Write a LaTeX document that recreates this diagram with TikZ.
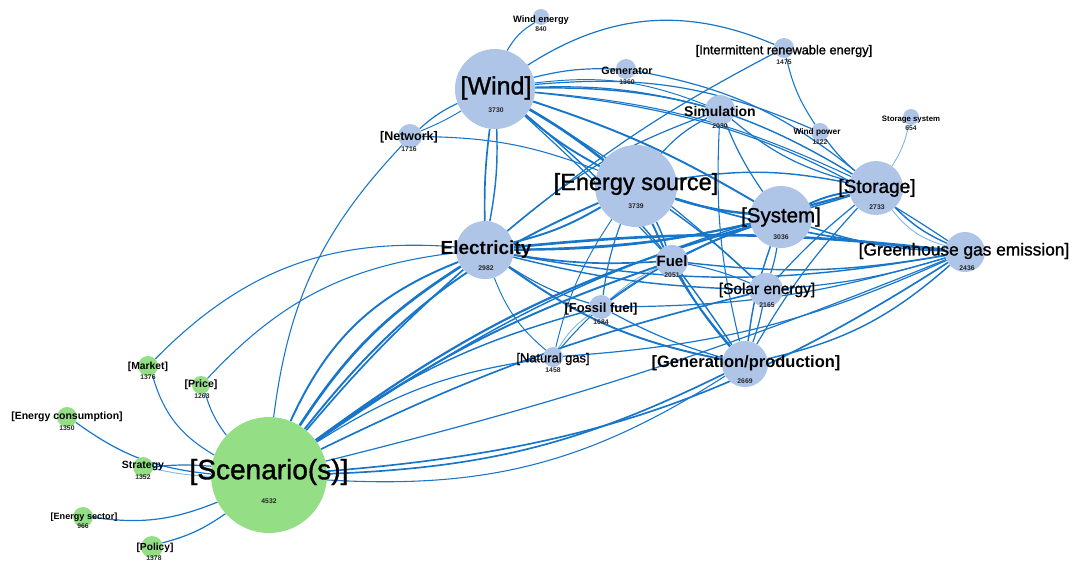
\documentclass[tikz,border=0pt]{standalone}
\usepackage{fontspec}
\setmainfont{Liberation Sans}
\newfontfamily\heavysans[FakeBold=1.2]{Liberation Sans}
\usetikzlibrary{positioning}
\definecolor{edgeblue}{RGB}{24,118,202}
\definecolor{topicblue}{RGB}{174,197,232}
\definecolor{topicgreen}{RGB}{148,222,134}
\pgfdeclarelayer{bg}
\pgfsetlayers{bg,main}

\begin{document}
\begin{tikzpicture}[x=1pt,y=-1pt,
bv/.style={circle,fill=topicblue,inner sep=0pt},
gv/.style={circle,fill=topicgreen,inner sep=0pt},
lb/.style={inner sep=0pt,text=black},
nb/.style={inner sep=0pt,text=black!85,font=\fontsize{6.8}{7}\selectfont\bfseries},
ed/.style={draw=edgeblue}]
\useasboundingbox (0,0) rectangle (1072,563);

% topics: name/x/y/radius/style
\foreach \n/\x/\y/\r/\s in {scen/269/475/58/gv, market/148/366/10/gv,
  price/201/385/9/gv, econs/67/417/10/gv, strat/143/467/10/gv,
  esec/83/517/10/gv, pol/152/547/11/gv,
  wind/495/89/40/bv, wenergy/541/17/8/bv, gener/626/69/10/bv,
  irene/784/48/10/bv, simul/720/110/15/bv, wpower/820/132/9/bv,
  sstor/911/117/8/bv, netw/410/136/12/bv, esrc/636/186/41/bv,
  syst/781/217/31/bv, stor/876/188/27/bv, ghg/965/252/20/bv,
  elec/485/250/29/bv, fuel/672/261/16/bv, solar/766/290/17/bv,
  fossil/601/307/12/bv, natgas/553/357/10/bv, gen/745/364/23/bv}
  \node[\s,minimum size=2*\r] (\n) at (\x,\y) {};

\begin{pgfonlayer}{bg}
% co-occurrence links: from/to/width/bend
\foreach \a/\b/\w/\k in {scen/elec/2.2/12, scen/elec/1.6/22, scen/elec/1.4/4,
  scen/esrc/1.6/14, scen/syst/1.8/10, scen/stor/1.2/10, scen/fuel/1.6/8,
  scen/fossil/1.2/10, scen/natgas/1.0/12, scen/solar/1.4/6,
  scen/gen/1.4/-12, scen/gen/0.9/-18, scen/ghg/1.4/-14, scen/ghg/1.0/-4,
  scen/netw/0.9/18, scen/market/0.9/22, scen/price/0.9/10, scen/strat/1.0/-5,
  econs/scen/1.0/-15, esec/scen/1.0/-15, pol/scen/1.0/-10,
  market/elec/0.9/25, price/elec/0.9/20,
  wind/wenergy/0.9/15, wind/netw/1.0/-8, wind/netw/0.8/4, wind/gener/1.0/8,
  wind/simul/1.0/8, wind/simul/0.8/14, wind/irene/1.0/28, wind/wpower/1.0/14,
  wind/stor/1.2/16, wind/stor/0.9/10, wind/syst/1.6/6, wind/esrc/2.2/4,
  wind/esrc/1.6/-6, wind/elec/1.4/-4, wind/elec/1.2/6, wind/gen/1.2/8,
  wind/ghg/1.0/14, wind/solar/1.0/6, wind/fuel/1.0/2,
  esrc/elec/1.6/8, esrc/syst/2.0/-6, esrc/stor/1.2/10, esrc/fuel/1.2/4,
  esrc/fossil/1.0/-6, esrc/gen/1.6/-8, esrc/ghg/1.4/-6, esrc/solar/1.2/4,
  esrc/simul/1.0/10, esrc/natgas/0.8/-10, netw/esrc/0.9/10,
  irene/elec/1.0/-6, irene/wpower/0.9/-10, simul/stor/1.0/-12,
  simul/syst/1.0/-6, simul/gen/0.9/-8, simul/elec/1.0/-10,
  gener/stor/1.0/14, wpower/stor/1.0/-6,
  syst/stor/1.6/8, elec/ghg/2.2/6, syst/ghg/1.2/-8, syst/solar/1.0/4,
  syst/gen/1.2/-6, syst/fuel/1.6/-4, syst/elec/1.8/6, syst/fossil/1.0/-8,
  stor/ghg/1.2/-10, stor/solar/1.0/-4, stor/gen/1.0/-6, stor/elec/1.2/8,
  stor/fuel/1.0/-6, ghg/solar/1.0/6, ghg/gen/1.2/14, ghg/fuel/1.2/8,
  ghg/fossil/1.0/8, ghg/natgas/1.0/10, ghg/elec/1.2/10,
  elec/fuel/1.4/-6, elec/fossil/1.0/-8, elec/gen/1.6/-12, elec/natgas/0.8/-14,
  elec/solar/1.2/-6, fuel/gen/1.2/-6, fuel/solar/0.9/6, fuel/natgas/0.9/-10,
  fossil/gen/1.0/-6, solar/gen/1.0/4}
  \draw[ed,line width=1.2*\w] (\a) to[bend left=\k] (\b);
% faint links
\foreach \a/\b/\k in {scen/strat/5, sstor/stor/10, stor/ghg/-18,
  fuel/fossil/-8, fossil/natgas/-12}
  \draw[ed,opacity=.55,line width=0.9] (\a) to[bend left=\k] (\b);
\end{pgfonlayer}

% labels
\node[lb,font=\fontsize{28}{28}\heavysans] (scen-t) at (269,472) {[Scenario(s)]};
\node[nb] (scen-n) at (269,501) {4532};
\node[lb,font=\fontsize{25}{25}\heavysans] (wind-t) at (496,88) {[Wind]};
\node[nb] (wind-n) at (496,110) {3730};
\node[lb,font=\fontsize{23.5}{24}\heavysans] (esrc-t) at (636,184) {[Energy source]};
\node[nb] (esrc-n) at (636,206) {3739};
\node[lb,font=\fontsize{20.5}{21}\heavysans] (syst-t) at (781,217) {[System]};
\node[nb] (syst-n) at (781,237) {3036};
\node[lb,font=\fontsize{19}{19}\heavysans] (stor-t) at (877,188) {[Storage]};
\node[nb] (stor-n) at (877,207) {2733};
\node[lb,font=\fontsize{17.3}{18}\heavysans] (ghg-t) at (964,251) {[Greenhouse gas emission]};
\node[nb] (ghg-n) at (967,268) {2436};
\node[lb,font=\fontsize{16.5}{17}\selectfont\bfseries] (gen-t) at (746,363) {[Generation/production]};
\node[nb] (gen-n) at (745,381) {2669};
\node[lb,font=\fontsize{19}{19}\selectfont\bfseries] (elec-t) at (486,250) {Electricity};
\node[nb] (elec-n) at (486,268) {2982};
\node[lb,font=\fontsize{15}{15}\selectfont\bfseries] (fuel-t) at (672,261) {Fuel};
\node[nb] (fuel-n) at (672,275) {2051};
\node[lb,font=\fontsize{15.5}{16}\heavysans] (solar-t) at (767,290) {[Solar energy]};
\node[nb] (solar-n) at (767,305) {2165};
\node[lb,font=\fontsize{13}{13}\selectfont\bfseries] (fossil-t) at (601,309) {[Fossil fuel]};
\node[nb] (fossil-n) at (601,322) {1684};
\node[lb,font=\fontsize{12.9}{13}\heavysans] (natgas-t) at (553,359) {[Natural gas]};
\node[nb] (natgas-n) at (553,370) {1458};
\node[lb,font=\fontsize{14}{14}\selectfont\bfseries] (simul-t) at (720,111) {Simulation};
\node[nb] (simul-n) at (720,126) {2030};
\node[lb,font=\fontsize{12.5}{13}\selectfont\bfseries] (netw-t) at (409,137) {[Network]};
\node[nb] (netw-n) at (409,149) {1716};
\node[lb,font=\fontsize{10.7}{11}\selectfont\bfseries] (gener-t) at (627,71) {Generator};
\node[nb] (gener-n) at (627,82) {1360};
\node[lb,font=\fontsize{12.8}{13}\heavysans] (irene-t) at (784,51) {[Intermittent renewable energy]};
\node[nb] (irene-n) at (784,62) {1475};
\node[lb,font=\fontsize{8.3}{9}\selectfont\bfseries] (wpower-t) at (817,132) {Wind power};
\node[nb] (wpower-n) at (820,142) {1122};
\node[lb,font=\fontsize{7.8}{8}\selectfont\bfseries] (sstor-t) at (911,120) {Storage system};
\node[nb] (sstor-n) at (911,128) {654};
\node[lb,font=\fontsize{9.3}{10}\selectfont\bfseries] (wenergy-t) at (541,20) {Wind energy};
\node[nb] (wenergy-n) at (541,29) {840};
\node[lb,font=\fontsize{10.3}{11}\selectfont\bfseries] (market-t) at (148,367) {[Market]};
\node[nb] (market-n) at (148,377) {1376};
\node[lb,font=\fontsize{10.6}{11}\selectfont\bfseries] (price-t) at (201,385) {[Price]};
\node[nb] (price-n) at (202,396) {1263};
\node[lb,font=\fontsize{10.5}{11}\selectfont\bfseries] (econs-t) at (67,417) {[Energy consumption]};
\node[nb] (econs-n) at (67,428) {1350};
\node[lb,font=\fontsize{10.5}{11}\selectfont\bfseries] (strat-t) at (143,466) {Strategy};
\node[nb] (strat-n) at (143,477) {1352};
\node[lb,font=\fontsize{9.1}{10}\selectfont\bfseries] (esec-t) at (84,517) {[Energy sector]};
\node[nb] (esec-n) at (83,526) {966};
\node[lb,font=\fontsize{10.2}{11}\selectfont\bfseries] (pol-t) at (155,548) {[Policy]};
\node[nb] (pol-n) at (154,558) {1378};
\end{tikzpicture}
\end{document}
